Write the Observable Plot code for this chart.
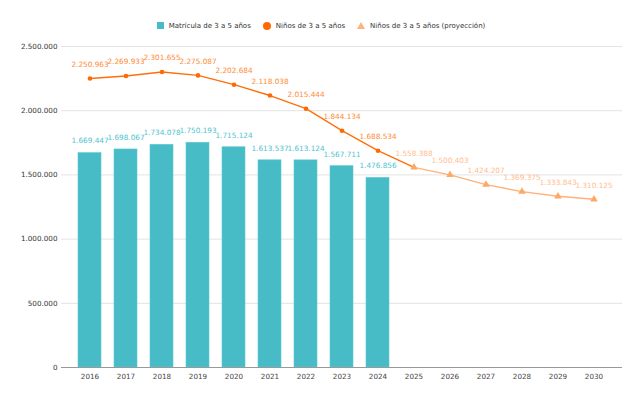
<!DOCTYPE html>
<html>
<head>
<meta charset="utf-8">
<script src="https://cdn.jsdelivr.net/npm/d3@7"></script>
<script src="https://cdn.jsdelivr.net/npm/@observablehq/plot@0.6"></script>
<style>
  html, body { margin: 0; padding: 0; background: #fff; width: 642px; height: 400px; overflow: hidden; }
  body { font-family: "DejaVu Sans", sans-serif; }
  #legend { height: 40px; display: flex; justify-content: center; align-items: center; gap: 12px; font-size: 7px; color: #333; padding-top: 11px; box-sizing: border-box; }
  .item { display: flex; align-items: center; gap: 5px; }
  .sq { width: 7px; height: 7px; background: #47BCC6; }
  .ci { width: 8px; height: 8px; border-radius: 50%; background: #FF6A00; }
  .tr { width: 0; height: 0; border-left: 4px solid transparent; border-right: 4px solid transparent; border-bottom: 7px solid #FFB27A; }
</style>
</head>
<body>
<div id="legend">
  <div class="item"><div class="sq"></div><span>Matrícula de 3 a 5 años</span></div>
  <div class="item"><div class="ci"></div><span>Niños de 3 a 5 años</span></div>
  <div class="item"><div class="tr"></div><span>Niños de 3 a 5 años (proyección)</span></div>
</div>
<div id="chart"></div>
<script>
const years = ["2016","2017","2018","2019","2020","2021","2022","2023","2024","2025","2026","2027","2028","2029","2030"];
const matriculaYears = ["2016","2017","2018","2019","2020","2021","2022","2023","2024"];
const matricula = [1669447, 1698067, 1734078, 1750193, 1715124, 1613537, 1613124, 1567711, 1476856];
const ninosYears = ["2016","2017","2018","2019","2020","2021","2022","2023","2024"];
const ninos = [2250963, 2269933, 2301655, 2275087, 2202684, 2118038, 2015444, 1844134, 1688534];
const proyYears = ["2025","2026","2027","2028","2029","2030"];
const proyeccion = [1558388, 1500403, 1424207, 1369375, 1333843, 1310125];
const yTicks = [0, 500000, 1000000, 1500000, 2000000, 2500000];

const fmt = d3.formatLocale({thousands: ".", grouping: [3], decimal: ","}).format(",d");

const barData = matriculaYears.map((y, i) => ({year: y, v: matricula[i]}));
const ninosData = ninosYears.map((y, i) => ({year: y, v: ninos[i]}));
const proyData = proyYears.map((y, i) => ({year: y, v: proyeccion[i]}));
const darkLine = ninosData.concat([proyData[0]]);

const font = "DejaVu Sans, sans-serif";

const chart = Plot.plot({
  width: 642,
  height: 360,
  marginTop: 6,
  marginBottom: 33,
  marginLeft: 61,
  marginRight: 20,
  style: {fontFamily: font, fontSize: "7.2px", background: "#fff"},
  x: {type: "band", domain: years, padding: 0.37, label: null},
  y: {domain: [0, 2500000], label: null},
  marks: [
    Plot.ruleY(yTicks.slice(1), {stroke: "#e3e3e3", strokeWidth: 1}),
    Plot.barY(barData, {x: "year", y: "v", fill: "#47BCC6", stroke: "#5cc8d1", strokeWidth: 0.6}),
    Plot.ruleY([0], {stroke: "#999", strokeWidth: 1.2}),
    Plot.axisY({ticks: yTicks, tickFormat: fmt, tickSize: 0, tickPadding: 4, fill: "#333", fontSize: 7.2, label: null}),
    Plot.axisX({tickSize: 0, tickPadding: 6, fill: "#444", fontSize: 7.2, label: null}),
    Plot.text(barData, {x: "year", y: "v", text: d => fmt(d.v), dy: -12, fill: "#4FC3CE", fontSize: 7.3}),
    Plot.line(proyData, {x: "year", y: "v", stroke: "#FFB27A", strokeWidth: 1.4}),
    Plot.line(darkLine, {x: "year", y: "v", stroke: "#FF6F0A", strokeWidth: 1.4}),
    Plot.dot(ninosData, {x: "year", y: "v", r: 2.3, fill: "#FF6A00"}),
    Plot.dot(proyData, {x: "year", y: "v", r: 2.8, symbol: "triangle", fill: "#FFA864"}),
    Plot.text(ninosData, {x: "year", y: "v", text: d => fmt(d.v), dy: -14, fill: "#FF8A33", fontSize: 7.3}),
    Plot.text(proyData, {x: "year", y: "v", text: d => fmt(d.v), dy: -14, fill: "#FFBC8E", fontSize: 7.3})
  ]
});
document.getElementById("chart").appendChild(chart);
</script>
</body>
</html>
